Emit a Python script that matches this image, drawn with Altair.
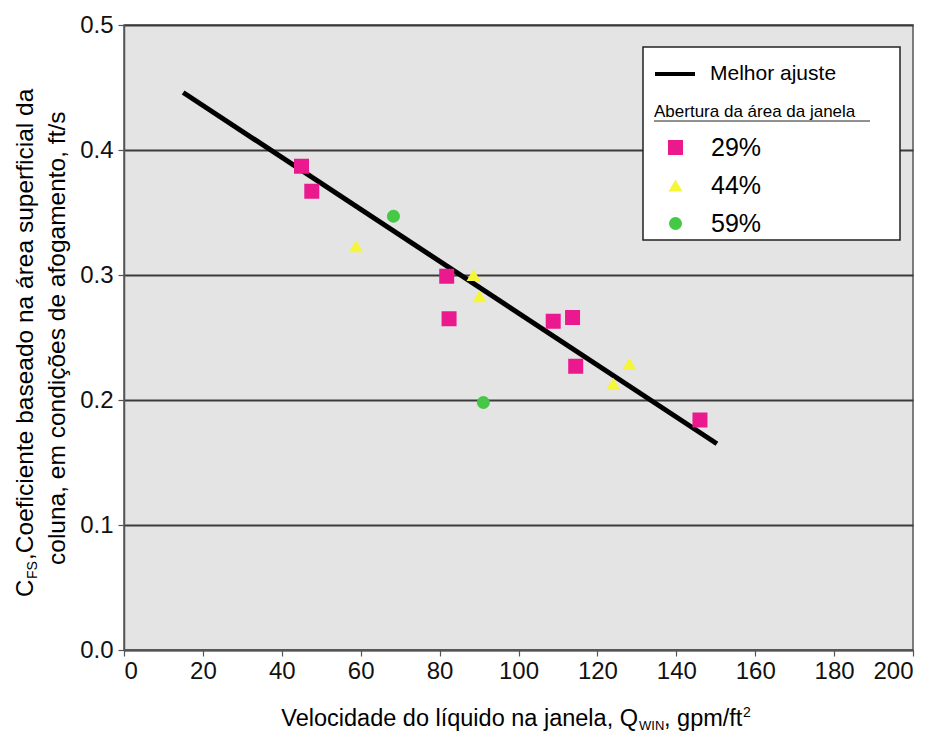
import altair as alt
import pandas as pd

FONT = "Liberation Sans"

# ---- data ----
groups = ["29%", "44%", "59%"]
colors = ["#ea1a8e", "#f5f53a", "#45c845"]
shapes = ["square", "triangle-up", "circle"]
sizes = [225, 170, 165]

q_29 = [45.0, 47.6, 81.8, 82.4, 108.8, 113.7, 114.5, 146.0]
c_29 = [0.387, 0.367, 0.299, 0.265, 0.263, 0.266, 0.227, 0.184]
q_44 = [58.8, 88.6, 90.1, 124.0, 128.1]
c_44 = [0.323, 0.300, 0.283, 0.213, 0.229]
q_59 = [68.3, 91.1]
c_59 = [0.347, 0.198]

fit_q = [15.0, 150.3]
fit_c = [0.446, 0.165]
fit_label = "Melhor ajuste"

x_ticks = [0, 20, 40, 60, 80, 100, 120, 140, 160, 180, 200]
y_ticks = [0.0, 0.1, 0.2, 0.3, 0.4, 0.5]

# ---- tables ----
pts = pd.DataFrame({
    "q": q_29 + q_44 + q_59,
    "c": c_29 + c_44 + c_59,
    "grupo": [groups[0]] * len(q_29) + [groups[1]] * len(q_44) + [groups[2]] * len(q_59),
})
fit = pd.DataFrame({"q": fit_q, "c": fit_c, "serie": [fit_label] * len(fit_q)})
one = pd.DataFrame({"k": [0]})

W, H = 789, 625

xenc = alt.X("q:Q", scale=alt.Scale(domain=[0, 200], nice=False),
             axis=alt.Axis(title="", values=x_ticks, grid=False, tickSize=6,
                           labelPadding=3, labelFontSize=24, labelFont=FONT,
                           labelColor="#111", domainColor="#555", tickColor="#555",
                           domainWidth=1.5, tickWidth=1.2))
yenc = alt.Y("c:Q", scale=alt.Scale(domain=[0, 0.5], nice=False),
             axis=alt.Axis(title="", values=y_ticks, format=".1f", grid=True,
                           gridColor="#3a3a3a", gridWidth=1.8, tickSize=6,
                           labelPadding=5, labelFontSize=24, labelFont=FONT,
                           labelColor="#111", domainColor="#555", tickColor="#555",
                           domainWidth=1.5, tickWidth=1.2))

line = alt.Chart(fit).mark_line(strokeWidth=5, strokeCap="butt").encode(
    x=xenc, y=yenc,
    color=alt.Color("serie:N", scale=alt.Scale(domain=[fit_label], range=["black"]),
                    legend=alt.Legend(title=None, orient="none", legendX=529, legendY=27,
                                      symbolType="stroke", symbolStrokeWidth=4,
                                      symbolSize=1600, symbolStrokeColor="black",
                                      labelFontSize=21, labelFont=FONT, labelColor="black",
                                      labelOffset=13, padding=0)),
)

leg2 = dict(title="Abertura da área da janela", orient="none",
            legendX=530, legendY=79, titleFontSize=17, titleLimit=400,
            titleFont=FONT, titleFontWeight="normal",
            titleColor="black", titlePadding=14,
            labelFontSize=25, labelFont=FONT, labelColor="black",
            symbolSize=200, symbolOffset=9, labelOffset=23,
            rowPadding=12, padding=0)

points = alt.Chart(pts).mark_point(filled=True, opacity=1).encode(
    x="q:Q", y="c:Q",
    color=alt.Color("grupo:N", scale=alt.Scale(domain=groups, range=colors),
                    legend=alt.Legend(**leg2)),
    shape=alt.Shape("grupo:N", scale=alt.Scale(domain=groups, range=shapes),
                    legend=alt.Legend(**leg2)),
    size=alt.Size("grupo:N", scale=alt.Scale(domain=groups, range=sizes), legend=None),
)

box = alt.Chart(one).mark_rect(fill="white", stroke="#222", strokeWidth=1.5).encode(
    x=alt.value(519), x2=alt.value(776), y=alt.value(22), y2=alt.value(215))
underline = alt.Chart(one).mark_rule(color="#222", strokeWidth=1).encode(
    x=alt.value(530), x2=alt.value(746), y=alt.value(96))


def txt(s, x, y, size, angle=0, align="left"):
    return alt.Chart(one).mark_text(text=s, fontSize=size, font=FONT, align=align,
                                    baseline="alphabetic", angle=angle,
                                    color="black").encode(x=alt.value(x), y=alt.value(y))


titles = [
    txt("Velocidade do líquido na janela, Q", 514, 701, 23.5, align="right"),
    txt("WIN", 515, 705, 13),
    txt(", gpm/ft", 540, 701, 23.5),
    txt("2", 619, 692, 14),
    txt("C", -91, 572, 24, angle=270),
    txt("FS", -87, 554, 14, angle=270),
    txt(" ,Coeficiente baseado na área superficial da", -91, 535, 24.5, angle=270),
    txt("coluna, em condições de afogamento, ft/s", -59, 540, 24.5, angle=270),
]

chart = alt.layer(box, underline, line, points, *titles).resolve_scale(
    color="independent", shape="independent", size="independent"
).properties(
    width=W, height=H,
    autosize=alt.AutoSizeParams(type="none"),
    padding={"left": 116, "top": 17, "right": 8, "bottom": 82},
    background="white",
).configure_view(
    fill="#e4e4e4", stroke="#555", strokeWidth=1.5
)

chart.save("out.html", embed_options={"renderer": "svg", "actions": False})
